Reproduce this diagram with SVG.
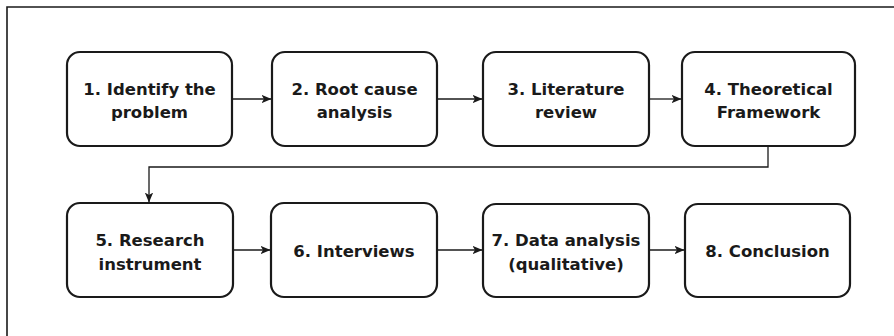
<svg xmlns="http://www.w3.org/2000/svg" width="894" height="336" viewBox="0 0 894 336">
<defs>
<style>
.box{fill:#fff;stroke:#1a1a1a;stroke-width:2.2}
.lbl{font-family:"DejaVu Sans",Verdana,sans-serif;font-weight:bold;font-size:16.5px;fill:#1a1a1a;text-anchor:middle}
.con{fill:none;stroke:#1a1a1a;stroke-width:1.3}
.frame{fill:none;stroke:#1a1a1a;stroke-width:1.6}
</style>
<marker id="arr" markerWidth="10" markerHeight="10" viewBox="0 0 10 10" refX="9.5" refY="5" orient="auto" markerUnits="userSpaceOnUse">
<path d="M0,0.8 L10,5 L0,9.2 L2.5,5 Z" fill="#1a1a1a"/>
</marker>
</defs>
<rect width="894" height="336" fill="#fff"/>
<path class="frame" d="M7,336 L7,7 L894,7"/>
<g id="connectors">
<path class="con" d="M232,99 L271,99" marker-end="url(#arr)"/>
<path class="con" d="M437,99 L482,99" marker-end="url(#arr)"/>
<path class="con" d="M649,99 L681,99" marker-end="url(#arr)"/>
<path class="con" d="M768,146 L768,167 L149,167 L149,202" marker-end="url(#arr)"/>
<path class="con" d="M233,250 L270,250" marker-end="url(#arr)"/>
<path class="con" d="M437,250 L482,250" marker-end="url(#arr)"/>
<path class="con" d="M649,250 L684,250" marker-end="url(#arr)"/>
</g>
<g id="n1"><rect class="box" x="67" y="52" width="165" height="94" rx="13"/><text class="lbl" x="149.5" y="94.5">1. Identify the</text><text class="lbl" x="149.5" y="117.5">problem</text></g>
<g id="n2"><rect class="box" x="272" y="52" width="165" height="94" rx="13"/><text class="lbl" x="354.5" y="94.5">2. Root cause</text><text class="lbl" x="354.5" y="117.5">analysis</text></g>
<g id="n3"><rect class="box" x="483" y="52" width="166" height="94" rx="13"/><text class="lbl" x="566" y="94.5">3. Literature</text><text class="lbl" x="566" y="117.5">review</text></g>
<g id="n4"><rect class="box" x="682" y="52" width="173" height="94" rx="13"/><text class="lbl" x="768.5" y="94.5">4. Theoretical</text><text class="lbl" x="768.5" y="117.5">Framework</text></g>
<g id="n5"><rect class="box" x="67" y="203" width="166" height="94" rx="13"/><text class="lbl" x="150" y="246">5. Research</text><text class="lbl" x="150" y="269.5">instrument</text></g>
<g id="n6"><rect class="box" x="271" y="203" width="166" height="94" rx="13"/><text class="lbl" x="354" y="256.5">6. Interviews</text></g>
<g id="n7"><rect class="box" x="483" y="204" width="166" height="93" rx="13"/><text class="lbl" x="566" y="246">7. Data analysis</text><text class="lbl" x="566" y="269.5">(qualitative)</text></g>
<g id="n8"><rect class="box" x="685" y="204" width="165" height="93" rx="13"/><text class="lbl" x="767.5" y="256.5">8. Conclusion</text></g>
</svg>
